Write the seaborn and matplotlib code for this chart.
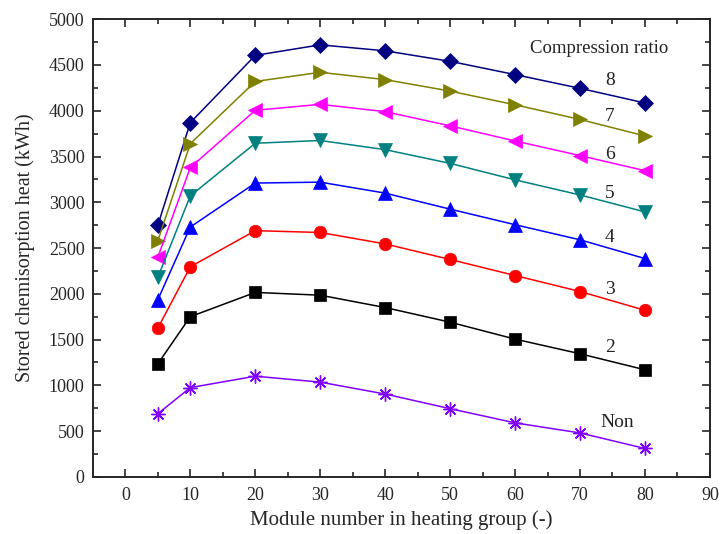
import numpy as np
import pandas as pd
import matplotlib
matplotlib.use("Agg")
import matplotlib.pyplot as plt
from matplotlib.ticker import MultipleLocator
import seaborn as sns

modules = [5, 10, 20, 30, 40, 50, 60, 70, 80]
ratios = ["8", "7", "6", "5", "4", "3", "2", "Non"]
heat_8 = [2750, 3870, 4605, 4720, 4655, 4540, 4395, 4245, 4085]
heat_7 = [2580, 3640, 4320, 4420, 4340, 4215, 4065, 3905, 3725]
heat_6 = [2400, 3380, 4005, 4070, 3990, 3835, 3670, 3510, 3345]
heat_5 = [2180, 3070, 3645, 3675, 3575, 3425, 3245, 3080, 2895]
heat_4 = [1935, 2730, 3210, 3220, 3100, 2925, 2755, 2590, 2385]
heat_3 = [1625, 2295, 2690, 2670, 2545, 2375, 2200, 2025, 1820]
heat_2 = [1235, 1750, 2015, 1985, 1850, 1690, 1505, 1345, 1170]
heat_non = [690, 975, 1100, 1035, 905, 745, 590, 480, 310]

# label positions (x, y) in data coords
label_pos = {"8": (74.6, 4330), "7": (74.6, 3940), "6": (74.6, 3525),
             "5": (74.6, 3100), "4": (74.6, 2620), "3": (74.6, 2050),
             "2": (74.6, 1410), "Non": (75.8, 590)}

series = dict(zip(ratios, [heat_8, heat_7, heat_6, heat_5, heat_4,
                           heat_3, heat_2, heat_non]))
colors = {"8": "#000080", "7": "#808000", "6": "#FF00FF", "5": "#008080",
          "4": "#0000FF", "3": "#FF0000", "2": "#000000", "Non": "#8000FF"}
markers = {"8": "D", "7": ">", "6": "<", "5": "v", "4": "^", "3": "o",
           "2": "s", "Non": (8, 2, 0)}
msizes = {"8": 8, "7": 10, "6": 10, "5": 10, "4": 10, "3": 9, "2": 8, "Non": 10}

sns.set_style("ticks")
plt.rcParams["font.family"] = ["Liberation Serif", "DejaVu Serif"]

fig = plt.figure(figsize=(7.2, 5.34), dpi=100)
ax = fig.add_axes([0.129, 0.107, 0.857, 0.857])

for r in ratios:
    df = pd.DataFrame({"x": modules, "y": series[r]})
    sns.lineplot(data=df, x="x", y="y", ax=ax, color=colors[r],
                 marker=markers[r], markersize=msizes[r], linewidth=1.1,
                 markeredgecolor=colors[r], markeredgewidth=1.0 if r == "Non" else 0.5)

for r in ratios:
    x, y = label_pos[r]
    ax.text(x, y, r, fontsize=14, ha="center", va="center", color="#222222")
ax.text(73, 4683, "Compression ratio", fontsize=13.5, ha="center", va="center",
        color="#222222")

ax.set_xlim(-5, 90)
ax.set_ylim(0, 5000)
ax.xaxis.set_major_locator(MultipleLocator(10))
ax.xaxis.set_minor_locator(MultipleLocator(5))
ax.yaxis.set_major_locator(MultipleLocator(500))
ax.yaxis.set_minor_locator(MultipleLocator(250))
ax.tick_params(which="both", direction="in", top=True, right=True,
               labelsize=13, width=1.2)
ax.tick_params(which="major", length=6)
ax.tick_params(which="minor", length=3.5)
ax.tick_params(axis="x", which="major", pad=7)
ax.tick_params(axis="y", which="major", pad=6)
for s in ax.spines.values():
    s.set_linewidth(1.4)

ax.set_xlabel("Module number in heating group (-)", fontsize=15, labelpad=5)
ax.set_ylabel("Stored chemisorption heat (kWh)", fontsize=14.5, labelpad=10)

fig.savefig("out.png", dpi=100)
